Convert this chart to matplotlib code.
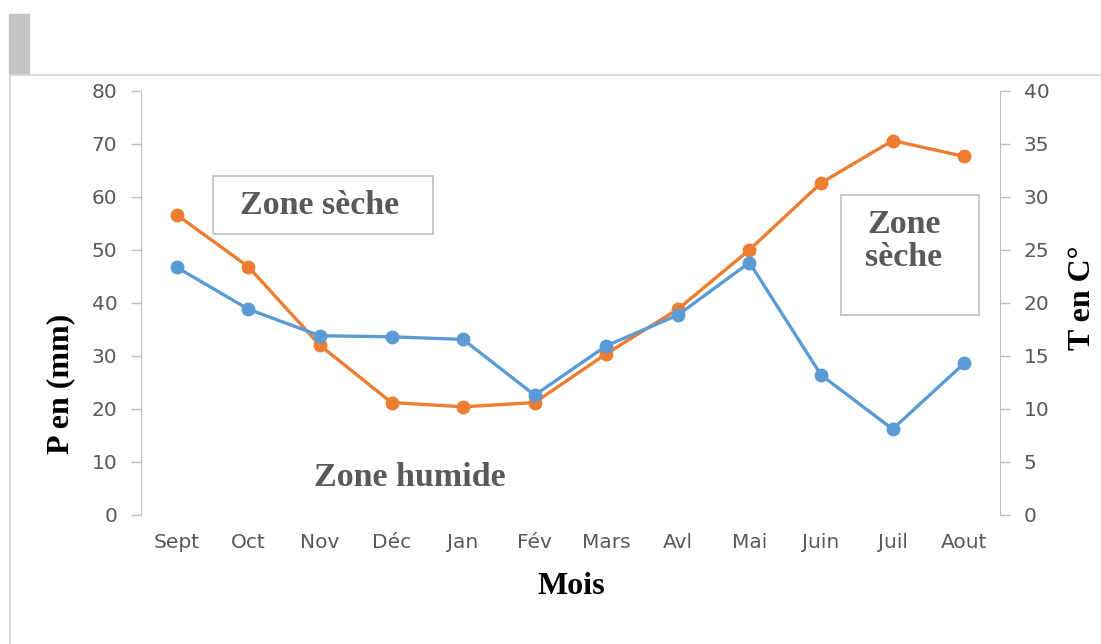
import numpy as np
import matplotlib
matplotlib.use("Agg")
from matplotlib import pyplot as plt
from matplotlib.patches import Rectangle

## data
mois = ['Sept', 'Oct', 'Nov', 'Déc', 'Jan', 'Fév', 'Mars', 'Avl', 'Mai', 'Juin', 'Juil', 'Aout']
precip = [46.7, 38.8, 33.8, 33.6, 33.1, 22.6, 31.9, 37.7, 47.6, 26.4, 16.2, 28.6]   # P en mm (left)
temp = [28.3, 23.4, 16.0, 10.6, 10.2, 10.6, 15.2, 19.4, 25.0, 31.3, 35.3, 33.8]      # T en C (right)
p_ticks = [0, 10, 20, 30, 40, 50, 60, 70, 80]
t_ticks = [0, 5, 10, 15, 20, 25, 30, 35, 40]

W, H = 1101, 644
BLUE = '#5B9BD5'
ORANGE = '#ED7D31'
GREY = '#595959'
AXC = '#BFBFBF'
SERIF = ['Liberation Serif', 'DejaVu Serif']

def fx(x):
    return x / W

def fy(y):
    return 1 - y / H

fig = plt.figure(figsize=(W / 100, H / 100), dpi=100)

# frame bits of the original screenshot
fig.add_artist(plt.Line2D([fx(10), 1], [fy(75), fy(75)], color='#D9D9D9', lw=1.5, transform=fig.transFigure))
fig.add_artist(plt.Line2D([fx(10), fx(10)], [fy(75), 0], color='#D9D9D9', lw=1.5, transform=fig.transFigure))
fig.add_artist(Rectangle((fx(9), fy(74)), fx(20), 60 / H, color='#C4C4C4', transform=fig.transFigure))

ax = fig.add_axes([fx(141), fy(515), fx(1000 - 141), (515 - 90.7) / H])
ax2 = ax.twinx()

x = np.arange(len(mois))
ax2.plot(x, temp, color=ORANGE, lw=2.4, marker='o', ms=9)
ax.plot(x, precip, color=BLUE, lw=2.4, marker='o', ms=9)
ax.set_zorder(ax2.get_zorder() + 1)
ax.patch.set_visible(False)

ax.set_xlim(-0.5, len(mois) - 0.5)
ax.set_ylim(0, 80)
ax2.set_ylim(0, 40)
ax.set_yticks(p_ticks)
ax2.set_yticks(t_ticks)
ax.set_xticks(x)
ax.set_xticklabels(mois)

for a in (ax, ax2):
    for s in ('top', 'bottom'):
        a.spines[s].set_visible(False)
ax.spines['right'].set_visible(False)
ax.spines['left'].set_color(AXC)
ax2.spines['left'].set_visible(False)
ax2.spines['right'].set_color(AXC)
ax.tick_params(axis='y', colors=AXC, length=7, width=1, labelcolor=GREY, labelsize=14.5, pad=10)
ax2.tick_params(axis='y', colors=AXC, length=7, width=1, labelcolor=GREY, labelsize=14.5, pad=10)
ax.tick_params(axis='x', length=0, labelcolor=GREY, labelsize=14.5, pad=13)

# axis titles
fig.text(fx(61), fy(384), 'P en (mm)', rotation=90, ha='center', va='center',
         family=SERIF, weight='bold', fontsize=23, color='black')
fig.text(fx(1083), fy(298), 'T en C°', rotation=90, ha='center', va='center',
         family=SERIF, weight='bold', fontsize=23, color='black')
fig.text(fx(571), fy(587), 'Mois', ha='center', va='center',
         family=SERIF, weight='bold', fontsize=23, color='black')

# annotation boxes
fig.add_artist(Rectangle((fx(213), fy(234)), fx(433 - 213), (234 - 176) / H, fill=False,
                         ec=AXC, lw=1.2, transform=fig.transFigure))
fig.text(fx(320), fy(205), 'Zone sèche', ha='center', va='center',
         family=SERIF, weight='bold', fontsize=24.5, color=GREY)
fig.add_artist(Rectangle((fx(841), fy(315)), fx(979 - 841), (315 - 195) / H, fill=False,
                         ec=AXC, lw=1.2, transform=fig.transFigure))
fig.text(fx(904), fy(241), 'Zone\nsèche', ha='center', va='center', linespacing=1.05,
         family=SERIF, weight='bold', fontsize=24.5, color=GREY)
fig.text(fx(410), fy(477), 'Zone humide', ha='center', va='center',
         family=SERIF, weight='bold', fontsize=24.5, color=GREY)

plt.savefig('out.png', dpi=100)
